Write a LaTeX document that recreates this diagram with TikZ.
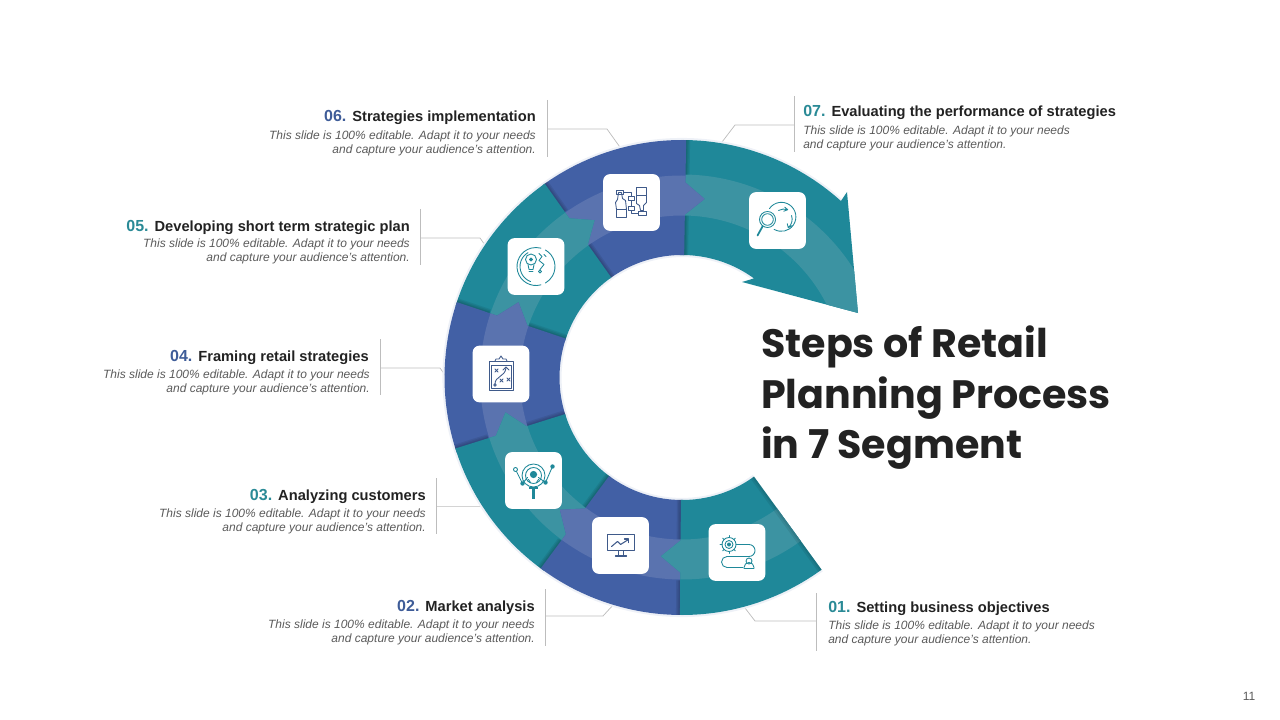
\documentclass[tikz,border=0pt]{standalone}
\usepackage{fontspec}
\setmainfont{Liberation Sans}
\newfontfamily\titlefont{Poppins}
\usepackage{tikz}
\usetikzlibrary{positioning,calc}
\definecolor{ink}      {HTML}{222222}
\definecolor{softink}  {HTML}{5A5A5A}
\definecolor{leadgrey} {HTML}{BDBDBD}
\definecolor{tealseg}  {HTML}{1F8899}
\definecolor{teallight}{HTML}{3C93A2}
\definecolor{blueseg}  {HTML}{4260A5}
\definecolor{bluelight}{HTML}{5A73AF}
\definecolor{tealnum}  {HTML}{2A8A96}
\definecolor{bluenum}  {HTML}{3E5C98}
\definecolor{blueicon} {HTML}{3F5A8A}
\tikzset{
  % --- nodes
  tile/.style  = {fill=white, rounded corners=5pt, minimum size=42.5pt, inner sep=0pt},
  head/.style  = {font=\fontsize{11}{12}\selectfont\bfseries, text=ink, inner sep=0pt},
  desc/.style  = {font=\fontsize{9}{10.5}\selectfont\itshape, text=softink, inner sep=0pt},
  titletxt/.style = {anchor=base west, inner sep=0pt, text=ink,
                     font=\titlefont\fontsize{29.7}{36}\selectfont\bfseries},
  % --- edges
  leader/.style= {draw=leadgrey, line width=0.55pt},
  glow/.style  = {draw=blueseg!9, line width=1.6pt},
  edgeshade/.style = {draw=black, opacity=0.08, line width=#1},
  % --- icons
  icon/.style  = {line width=0.65pt, line cap=round, line join=round},
  tealicon/.style = {icon, draw=tealseg, fill=none},
  blueline/.style = {icon, draw=blueicon, fill=none},
}
\newcommand{\numt}[1]{{\fontsize{12}{12}\selectfont\textcolor{tealnum}{#1}}\hspace{4.5pt}}
\newcommand{\numb}[1]{{\fontsize{12}{12}\selectfont\textcolor{bluenum}{#1}}\hspace{4.5pt}}
\newcommand{\blurb}{This slide is 100\% editable. Adapt it to your needs}
\newcommand{\blurbb}{and capture your audience's attention.}
\begin{document}
\begin{tikzpicture}[x=0.75pt,y=-0.75pt]
  \useasboundingbox (0,0) rectangle (1280,720);
  \coordinate (ringc) at (682,377.5);
  \coordinate (barbtop) at (847,192);
  \coordinate (headtip) at (858,313);
  \coordinate (barbin) at (742,282);

  % leaders: bar top / bar bottom / elbow / end
  \foreach \name/\bx/\bt/\bb/\ly/\ex/\tx/\ty in {
    six/547/100/157/129/607/622/150,
    seven/794/96/152/125/735/719/146,
    five/420/209/265/238/480/487/248,
    four/380/339/395/368/440/447/378,
    three/436/478/534/506/484/490/506,
    two/545/589/646/616/603/614/604,
    one/816/593/651/621/755/745/608} {
    \coordinate (\name top) at (\bx,\bt);
    \coordinate (\name bot) at (\bx,\bb);
    \coordinate (\name elbow) at (\ex,\ly);
    \coordinate (\name end) at (\tx,\ty);
    \draw[leader] (\name top) -- (\name bot);
    \draw[leader] (\bx,\ly) -- (\name elbow) -- (\name end);
  }

  % ring
  \begin{scope}[shift={(ringc)}]
    \draw[glow] (-306:238.5) arc[start angle=-306,end angle=-48,radius=238.5];
    \draw[glow] (-306:121.5) arc[start angle=-306,end angle=-54,radius=121.5];

    \def\arrowpath{(-91:237.5) arc[start angle=-91,end angle=-48,radius=237.5]
      -- (barbtop) -- (headtip) -- (barbin) -- (-54:122.5)
      arc[start angle=-54,end angle=-91,radius=122.5] -- cycle}
    \fill[tealseg] \arrowpath;
    \begin{scope}
      \clip \arrowpath;
      \fill[teallight] (-91:203) arc[start angle=-91,end angle=-5,radius=203]
        -- (-5:162) arc[start angle=-5,end angle=-91,radius=162] -- cycle;
    \end{scope}

    \foreach \aend/\atail/\dk/\lt in {
      -89/-126/blueseg/bluelight,
      -125.3/-162.5/tealseg/teallight,
      -161.5/-198.5/blueseg/bluelight,
      -197.4/-234.5/tealseg/teallight,
      -233.5/-270.5/blueseg/bluelight,
      -269.5/-306/tealseg/teallight} {
      \foreach \wd in {2pt,4pt,6pt} {
        \draw[edgeshade=\wd] (\aend:237.5) -- (\aend:203);
        \draw[edgeshade=\wd] (\aend:162) -- (\aend:122.5);
      }
      \fill[\dk] (\atail:237.5) arc[start angle=\atail,end angle=\aend,radius=237.5]
        -- (\aend:195) -- ({\aend+6.2}:180) -- (\aend:163) -- (\aend:122.5)
        arc[start angle=\aend,end angle=\atail,radius=122.5] -- cycle;
      \fill[\lt] (\atail:202) arc[start angle=\atail,end angle=\aend,radius=202]
        -- (\aend:195) -- ({\aend+6.2}:180) -- (\aend:163) -- (\aend:162)
        arc[start angle=\aend,end angle=\atail,radius=162] -- cycle;
    }
    % cut end of the first segment
    \begin{scope}
      \clip (-306:237.5) arc[start angle=-306,end angle=-290,radius=237.5]
        -- (-290:122.5) arc[start angle=-290,end angle=-306,radius=122.5] -- cycle;
      \foreach \wd in {3pt,6pt} {
        \draw[edgeshade=\wd] (-306:237.5) -- (-306:122.5);
      }
    \end{scope}
  \end{scope}

  % tiles
  \node[tile] (tileseven) at (777.5,220.5) {};
  \node[tile] (tilesix)   at (631.5,202.5) {};
  \node[tile] (tilefive)  at (536,266.5) {};
  \node[tile] (tilefour)  at (501,374) {};
  \node[tile] (tilethree) at (533.5,480.5) {};
  \node[tile] (tiletwo)   at (620.5,545.5) {};
  \node[tile] (tileone)   at (737,552.5) {};

  % seven: magnifier and cycle
  \begin{scope}[shift={(tileseven)}]
    \draw[tealicon] (-10,-1) circle[radius=8];
    \draw[tealicon] (-10,-1) circle[radius=5.8];
    \draw[tealicon,line width=1.3pt] (-15,6) -- (-20,15);
    \draw[tealicon] (-8,-12) arc[start angle=-145,end angle=120,radius=14.5];
    \draw[tealicon] (1,-10) arc[start angle=-120,end angle=-70,radius=11] -- ++(-3,-2.5) ++(3,2.5) -- ++(-4,1.5);
    \draw[tealicon] (14,-5) arc[start angle=-20,end angle=50,radius=11] -- ++(-1,-4) ++(1,4) -- ++(4,-2);
  \end{scope}

  % six: hands and flow boxes
  \begin{scope}[shift={(tilesix)}]
    \draw[blueline] (-15,15) rectangle (-5,7);
    \draw[blueline] (-15,7) -- (-16,0) -- (-14,-3) -- (-13,-10) -- (-10,-10) -- (-9,-4) -- (-6,-2) -- (-5,7);
    \draw[blueline] (5,-15) rectangle (15,-7);
    \draw[blueline] (5,-7) -- (5,1) -- (8,3) -- (9,8) -- (12,8) -- (12,3) -- (15,0) -- (15,-7);
    \draw[blueline] (-15,-12) rectangle (-8,-8);
    \draw[blueline] (-3,-6) rectangle (3,-2);
    \draw[blueline] (-3,4) rectangle (3,8);
    \draw[blueline] (7,9) rectangle (15,13);
    \draw[blueline] (-8,-10) -- (0,-10) -- (0,-6);
    \draw[blueline] (0,-2) -- (0,4);
    \draw[blueline] (0,8) -- (0,11) -- (7,11);
  \end{scope}

  % five: bulb inside broken rings
  \begin{scope}[shift={(tilefive)}]
    \draw[tealicon] (-60:19) arc[start angle=-60,end angle=60,radius=19];
    \draw[tealicon] (75:19) arc[start angle=75,end angle=285,radius=19];
    \draw[tealicon] (110:16) arc[start angle=110,end angle=240,radius=16];
    \draw[tealicon] (-5,-7) circle[radius=5.5];
    \filldraw[tealicon,fill=tealseg] (-5,-7) circle[radius=1.6];
    \draw[tealicon] (-8,-2) -- (-7,3) -- (-3,3) -- (-2,-2);
    \draw[tealicon] (-7,5) -- (-3,5);
    \draw[tealicon] (3,-13) -- (6,-10) -- (3,-6) -- (8,-2) -- (4,3);
    \draw[tealicon] (4,5) circle[radius=1.5];
    \draw[tealicon] (8,-12) -- ++(2,2);
  \end{scope}

  % four: clipboard
  \begin{scope}[shift={(tilefour)}]
    \draw[blueline] (-12,-13) rectangle (12,16);
    \draw[blueline] (-10,-9) rectangle (10,14);
    \draw[blueline] (-6,-13) -- (-5,-15) -- (-2,-15) -- (0,-18) -- (2,-15) -- (5,-15) -- (6,-13);
    \draw[blueline] (-6,-5) -- (-3,-2) (-6,-2) -- (-3,-5);
    \draw[blueline] (-1,5) -- (2,8) (-1,8) -- (2,5);
    \draw[blueline] (6,4) -- (9,7) (6,7) -- (9,4);
    \draw[blueline] (-6,10) .. controls (-6,2) and (4,3) .. (5,-6);
    \draw[blueline] (2,-4) -- (5,-7) -- (8,-4);
    \draw[blueline] (-6,11) circle[radius=1.3];
  \end{scope}

  % three: magnifier with person
  \begin{scope}[shift={(tilethree)}]
    \draw[tealicon] (0,-5) circle[radius=11.5];
    \draw[tealicon] (0,-5) circle[radius=8];
    \fill[tealseg] (0,-6) circle[radius=3.6];
    \draw[tealicon] (-5,-1) -- (-3,2) (5,-1) -- (3,2);
    \draw[tealicon,line width=2.2pt,line cap=butt] (0,7) -- (0,18);
    \draw[tealicon,line width=1.5pt,line cap=butt] (-4.5,7) -- (4.5,7);
    \draw[tealicon] (-18,-11) circle[radius=2];
    \draw[tealicon] (-17,-9) -- (-11,3) -- (-6,-3);
    \fill[tealseg] (-11,3) circle[radius=2.2];
    \draw[tealicon] (19,-14) -- (12,2) -- (5,-3);
    \fill[tealseg] (19,-14) circle[radius=2.2];
    \fill[tealseg] (12,2) circle[radius=2.2];
  \end{scope}

  % two: monitor and trend
  \begin{scope}[shift={(tiletwo)}]
    \draw[blueline,line width=0.8pt] (-13,-11) rectangle (14,5);
    \draw[blueline] (-2,5) -- (-2,10) (3,5) -- (3,10);
    \draw[blueline,line width=0.8pt] (-5,10.5) -- (6,10.5);
    \draw[blueline,line width=0.8pt] (-9,1) -- (-3,-4) -- (0,-1) -- (8,-6);
    \draw[blueline,line width=0.8pt] (4,-6.5) -- (8,-6.5) -- (8,-3);
  \end{scope}

  % one: gear, track and person
  \begin{scope}[shift={(tileone)}]
    \draw[tealicon] (-8,-8) circle[radius=7];
    \draw[tealicon] (-8,-8) circle[radius=4];
    \fill[tealseg] (-8,-8) circle[radius=2];
    \foreach \ang in {0,45,...,315} {
      \draw[tealicon] ($(-8,-8)+(\ang:7)$) -- ($(-8,-8)+(\ang:9)$);
    }
    \draw[tealicon] (0,-8) -- (12,-8) arc[start angle=-90,end angle=90,radius=6]
      -- (-10,4) arc[start angle=-90,end angle=-270,radius=5.5] -- (6,15);
    \draw[tealicon] (12,8.5) circle[radius=3];
    \draw[tealicon] (7,16) -- (7,15) arc[start angle=180,end angle=360,radius=5] -- (17,16) -- cycle;
  \end{scope}

  % labels
  \node[head,anchor=base east] (headsix) at (536,122) {\numb{06.}Strategies implementation};
  \node[desc,anchor=east,align=right] (descsix) at (536,143.5) {\blurb\\\blurbb};
  \node[head,anchor=base east] (headfive) at (410,232) {\numt{05.}Developing short term strategic plan};
  \node[desc,anchor=east,align=right] (descfive) at (410,251.5) {\blurb\\\blurbb};
  \node[head,anchor=base east] (headfour) at (369,361) {\numb{04.}Framing retail strategies};
  \node[desc,anchor=east,align=right] (descfour) at (370,382.5) {\blurb\\\blurbb};
  \node[head,anchor=base east] (headthree) at (426,500) {\numt{03.}Analyzing  customers};
  \node[desc,anchor=east,align=right] (descthree) at (426,521.5) {\blurb\\\blurbb};
  \node[head,anchor=base east] (headtwo) at (535,611) {\numb{02.}Market analysis};
  \node[desc,anchor=east,align=right] (desctwo) at (535,632.5) {\blurb\\\blurbb};
  \node[head,anchor=base west] (headseven) at (803,117) {\numt{07.}Evaluating the performance of strategies};
  \node[desc,anchor=west,align=left] (descseven) at (803,138.5) {\blurb\\\blurbb};
  \node[head,anchor=base west] (headone) at (828,612) {\numt{01.}Setting business objectives};
  \node[desc,anchor=west,align=left] (descone) at (828,633.5) {\blurb\\\blurbb};

  \node[titletxt] (titlea) at (761,357) {Steps of Retail};
  \node[titletxt] (titleb) at (761,408) {Planning Process};
  \node[titletxt] (titlec) at (761,458) {in 7 Segment};
  \node[font=\fontsize{9}{11}\selectfont,text=softink,inner sep=0pt] (pagenum) at (1249,696) {11};
\end{tikzpicture}
\end{document}
